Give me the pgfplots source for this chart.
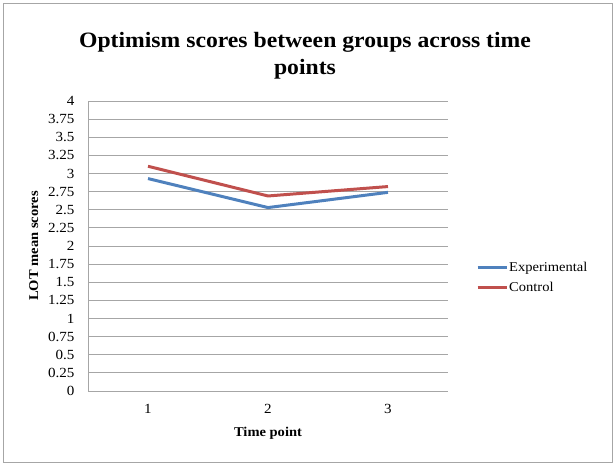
\documentclass[border=0pt]{standalone}
\usepackage{pgfplots}
\pgfplotsset{compat=1.18}
\usepackage{fontspec}
\setmainfont[FakeStretch=1.08]{Liberation Serif}
\definecolor{expblue}{HTML}{4F81BD}
\definecolor{ctrlred}{HTML}{C0504D}
\definecolor{gridgray}{HTML}{A6A6A6}
\begin{document}
\begin{tikzpicture}
% page and chart frame
\path (0bp,0bp) rectangle (615bp,465bp);
\draw[gridgray, line width=0.8bp] (3bp,3bp) rectangle (612bp,462bp);
% chart title
\node[align=center, font=\fontsize{22}{27}\selectfont\bfseries] at (305bp,409bp)
  {Optimism scores between groups across time\\points};
\begin{axis}[
  at={(88bp,74bp)}, anchor=south west,
  scale only axis, width=360bp, height=290bp,
  xmin=0.5, xmax=3.5, ymin=0, ymax=4,
  xtick={1,2,3}, ytick={0,0.25,...,4},
  yticklabels={0,0.25,0.5,0.75,1,1.25,1.5,1.75,2,2.25,2.5,2.75,3,3.25,3.5,3.75,4},
  axis x line*=bottom, axis y line*=left,
  axis line style={gridgray, line width=0.8bp, -},
  ymajorgrids, grid style={gridgray, line width=0.8bp},
  major tick length=0pt,
  tick label style={font=\fontsize{14}{16}\selectfont},
  yticklabel style={xshift=-10bp},
  xticklabel style={yshift=-10bp},
  /pgf/number format/assume math mode=true,
  xlabel={Time point}, ylabel={LOT mean scores},
  xlabel style={font=\fontsize{13.5}{15}\selectfont\bfseries, yshift=-6bp},
  ylabel style={font=\fontsize{13.5}{15}\selectfont\bfseries, yshift=3bp},
  legend style={at={(1,0.39)}, anchor=west, xshift=25bp, draw=none, fill=none,
    font=\fontsize{13.5}{15}\selectfont, row sep=5bp,
    nodes={inner xsep=1bp}},
  legend cell align=left,
  legend image code/.code={\draw[#1, line width=3bp] (0bp,0bp) -- (29bp,0bp);},
]
\addplot[expblue, line width=3bp] coordinates {(1,2.93) (2,2.53) (3,2.74)};
\addlegendentry{Experimental}
\addplot[ctrlred, line width=3bp] coordinates {(1,3.10) (2,2.69) (3,2.82)};
\addlegendentry{Control}
\end{axis}
\end{tikzpicture}
\end{document}
